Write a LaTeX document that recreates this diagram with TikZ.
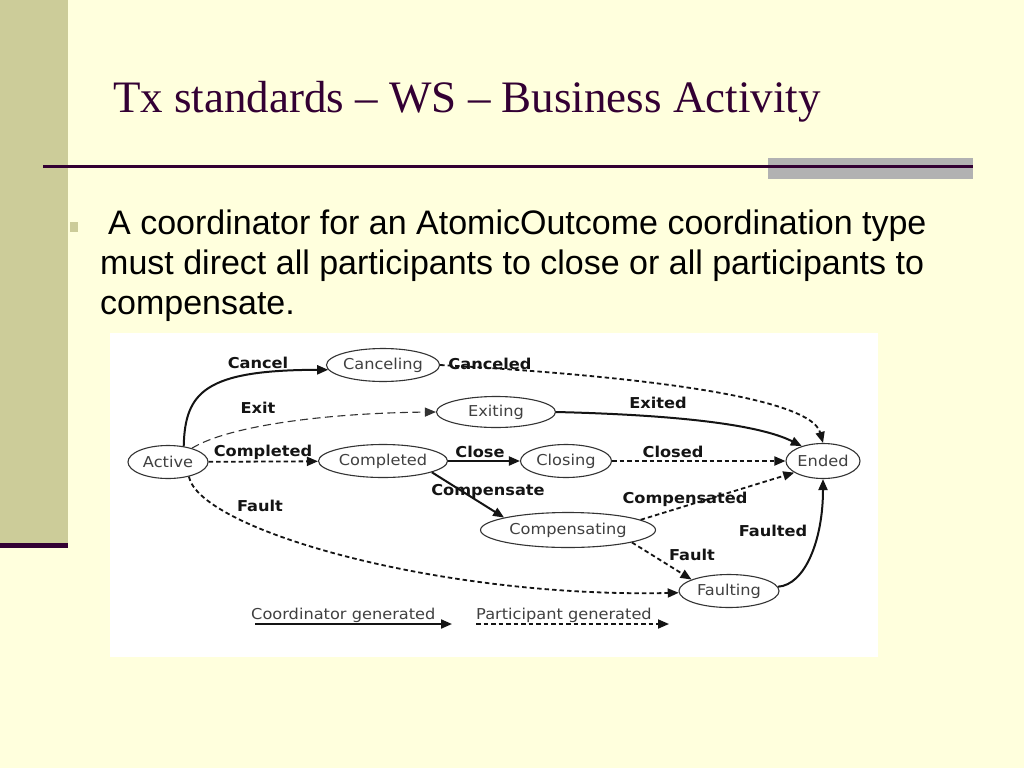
\documentclass[tikz,border=0pt]{standalone}
\usepackage{fontspec}
\setmainfont{Liberation Serif}
\newfontfamily\bodyfont{Liberation Sans}
\newfontfamily\diafont[FakeStretch=1.08]{DejaVu Sans}
\usetikzlibrary{arrows.meta,shapes.geometric}
\definecolor{slidebg}{HTML}{FFFFDD}
\definecolor{barcol}{HTML}{CCCC99}
\definecolor{titlecol}{HTML}{330033}
\definecolor{rulegray}{HTML}{B2B2B2}
\begin{document}
\begin{tikzpicture}[x=1pt,y=-1pt,
  state/.style={ellipse, draw=black!80, line width=1.1pt, inner sep=0pt,
    minimum height=33pt, text=black!75, fill=white,
    font=\diafont\fontsize{15}{17}\selectfont},
  lbl/.style={inner sep=0pt, text=black!92,
    font=\diafont\bfseries\fontsize{15}{17}\selectfont},
  legtxt/.style={inner sep=0pt, text=black!75, anchor=base west,
    font=\diafont\fontsize{15}{17}\selectfont},
  coordarrow/.style={line width=2pt, draw=black!92,
    -{Triangle[length=11pt,width=9pt]}},
  partarrow/.style={line width=1.8pt, draw=black!92, dash pattern=on 4.5pt off 3pt,
    -{Triangle[length=11pt,width=9pt]}},
  exitarrow/.style={line width=1.1pt, draw=black!80, dash pattern=on 8pt off 4.5pt,
    -{Triangle[length=11pt,width=9pt]}}
]
\useasboundingbox (0,0) rectangle (1024,768);
% background
\fill[slidebg] (0,0) rectangle (1024,768);
\fill[barcol] (0,0) rectangle (68,545);
\fill[titlecol] (0,543) rectangle (68,548);
% title
\node[anchor=base west, inner sep=0pt, text=titlecol,
  font=\fontsize{45}{50}\selectfont] (title) at (113,112)
  {Tx standards -- WS -- Business Activity};
% rule
\fill[rulegray] (768,158) rectangle (973,179);
\fill[titlecol] (43,165) rectangle (973,167.5);
% bullet
\fill[barcol] (70,222) rectangle (78,232);
% body text
\node[anchor=base west, inner sep=0pt, text=black,
  font=\bodyfont\fontsize{34}{40}\selectfont] (l1) at (108,234)
  {A coordinator for an AtomicOutcome coordination type};
\node[anchor=base west, inner sep=0pt, text=black,
  font=\bodyfont\fontsize{34}{40}\selectfont] (l2) at (100,274)
  {must direct all participants to close or all participants to};
\node[anchor=base west, inner sep=0pt, text=black,
  font=\bodyfont\fontsize{34}{40}\selectfont] (l3) at (100,314)
  {compensate.};
% diagram panel
\fill[white] (110,333) rectangle (878,657);
% states
\node[state, minimum width=80pt]  (Active)       at (168,462) {Active};
\node[state, minimum width=110pt] (Canceling)    at (383,365) {Canceling};
\node[state, minimum width=119pt, minimum height=31pt] (Exiting) at (496,412) {Exiting};
\node[state, minimum width=129pt] (Completed)    at (383,461) {Completed};
\node[state, minimum width=91pt]  (Closing)      at (566,461) {Closing};
\node[state, minimum width=74pt, minimum height=35pt] (Ended) at (823,461) {Ended};
\node[state, minimum width=175pt, minimum height=35pt] (Compensating) at (568,530) {Compensating};
\node[state, minimum width=100pt] (Faulting)     at (729,591) {Faulting};
% edges
\draw[coordarrow] (Active.45) .. controls (185,392) and (205,370) .. (Canceling.185);
\draw[exitarrow] (Active.30) .. controls (230,425) and (330,413) .. (Exiting.west);
\draw[partarrow] (Active) -- (Completed);
\draw[partarrow] (Active.-35) .. controls (200,530) and (440,598) .. (Faulting.182);
\draw[partarrow] (Canceling.east) .. controls (620,375) and (810,395) .. (Ended.north);
\draw[coordarrow] (Exiting.east) .. controls (680,415) and (760,425) .. (Ended.145);
\draw[coordarrow] (Completed) -- (Closing);
\draw[partarrow] (Closing) -- (Ended);
\draw[coordarrow] (Completed.-13) -- (Compensating.169);
\draw[partarrow] (Compensating.8) -- (Ended.202);
\draw[partarrow] (Compensating.-11) -- (Faulting.163);
\draw[coordarrow] (Faulting.5) .. controls (805,585) and (823,540) .. (Ended.south);
% labels
\node[lbl] (tCancel)      at (258,363) {Cancel};
\node[lbl] (tExit)        at (258,408) {Exit};
\node[lbl] (tCompleted)   at (263,452) {Completed};
\node[lbl] (tFault)       at (260,506) {Fault};
\node[lbl] (tCanceled)    at (490,364) {Canceled};
\node[lbl] (tExited)      at (658,403) {Exited};
\node[lbl] (tClose)       at (480,452) {Close};
\node[lbl] (tClosed)      at (673,452) {Closed};
\node[lbl] (tCompensate)  at (488,491) {Compensate};
\node[lbl] (tCompensated) at (685,499) {Compensated};
\node[lbl] (tFault2)      at (692,555) {Fault};
\node[lbl] (tFaulted)     at (773,531) {Faulted};
% legend
\node[legtxt] (legC) at (251,619) {Coordinator generated};
\node[legtxt] (legP) at (476,619) {Participant generated};
\coordinate (lcs) at (255,624);
\coordinate (lce) at (452,624);
\coordinate (lps) at (476,624);
\coordinate (lpe) at (669,624);
\draw[coordarrow] (lcs) -- (lce);
\draw[partarrow] (lps) -- (lpe);
\end{tikzpicture}
\end{document}
